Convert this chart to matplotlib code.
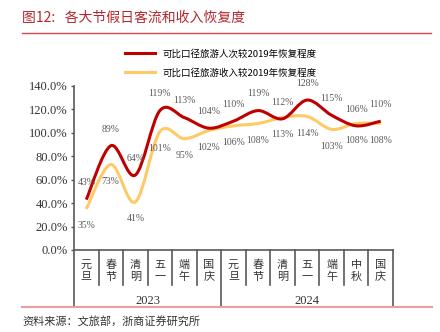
import matplotlib
matplotlib.use("Agg")
import matplotlib.pyplot as plt
from matplotlib.path import Path
from matplotlib.patches import PathPatch
from matplotlib.lines import Line2D
import matplotlib.transforms as mtransforms

# ---- data ----
holidays = ["元旦", "春节", "清明", "五一", "端午", "国庆",
            "元旦", "春节", "清明", "五一", "端午", "中秋", "国庆"]
years = ["2023", "2024"]
year_counts = [6, 7]
trips = [43, 89, 64, 119, 113, 104, 110, 119, 112, 128, 115, 106, 110]
revenue = [35, 73, 41, 101, 95, 102, 106, 108, 113, 114, 103, 108, 108]
series_names = ["可比口径旅游人次较2019年恢复程度", "可比口径旅游收入较2019年恢复程度"]
yticks = [0, 20, 40, 60, 80, 100, 120, 140]

CJK = ["Noto Sans CJK SC", "DejaVu Sans"]
SERIF = ["Liberation Serif", "DejaVu Serif"]
RED = "#C00000"
YEL = "#FFC966"
GRAY = "#595959"

fig = plt.figure(figsize=(4.4, 3.32), dpi=100)
ax = fig.add_axes([74/440, 1-250/332, 319/440, 164/332])
ax.set_xlim(-0.5, len(holidays)-0.5)
ax.set_ylim(0, 140)


def smooth_path(xs, ys):
    verts = [(xs[0], ys[0])]
    codes = [Path.MOVETO]
    n = len(xs)
    for i in range(n-1):
        x0, y0 = xs[max(i-1, 0)], ys[max(i-1, 0)]
        x1, y1 = xs[i], ys[i]
        x2, y2 = xs[i+1], ys[i+1]
        x3, y3 = xs[min(i+2, n-1)], ys[min(i+2, n-1)]
        c1 = (x1 + (x2-x0)/6, y1 + (y2-y0)/6)
        c2 = (x2 - (x3-x1)/6, y2 - (y3-y1)/6)
        verts += [c1, c2, (x2, y2)]
        codes += [Path.CURVE4]*3
    return Path(verts, codes)

xs = list(range(len(holidays)))
for vals, col, z in [(trips, RED, 3), (revenue, YEL, 2)]:
    p = PathPatch(smooth_path(xs, vals), facecolor="none", edgecolor=col,
                  lw=2.2, zorder=z, capstyle="butt")
    ax.add_patch(p)

for i, v in enumerate(trips):
    ax.annotate(f"{v}%", (i, v), xytext=(0, 12), textcoords="offset points",
                ha="center", va="center", fontsize=7, color=GRAY,
                family=SERIF, annotation_clip=False)
for i, v in enumerate(revenue):
    ax.annotate(f"{v}%", (i, v), xytext=(0, -12), textcoords="offset points",
                ha="center", va="center", fontsize=7, color=GRAY,
                family=SERIF, annotation_clip=False)

# axes styling
for s in ["top", "right"]:
    ax.spines[s].set_visible(False)
ax.spines["left"].set_color(GRAY)
ax.spines["left"].set_linewidth(1.2)
ax.spines["bottom"].set_color(GRAY)
ax.spines["bottom"].set_linewidth(1.2)
ax.set_yticks(yticks)
ax.set_yticklabels([f"{t:.1f}%" for t in yticks], family=SERIF, fontsize=9, color="#333333")
ax.tick_params(axis="y", direction="out", length=2.5, width=1, color=GRAY, pad=2)
ax.set_xticks([])

# category table below axis
trans = mtransforms.blended_transform_factory(ax.transData, ax.transAxes)
h = 164.0
year_bounds = [-0.5]
for c in year_counts:
    year_bounds.append(year_bounds[-1] + c)
for k in range(len(holidays)+1):
    xb = k - 0.5
    depth = 57/h if xb in year_bounds else 35/h
    ax.add_line(Line2D([xb, xb], [0, -depth], transform=trans, color=GRAY,
                       lw=1.2, clip_on=False))
for i, name in enumerate(holidays):
    ax.text(i, -21/h, "\n".join(name), transform=trans, ha="center", va="center",
            fontsize=8, family=CJK, color="#333333", linespacing=1.2)
for j, yr in enumerate(years):
    xc = (year_bounds[j] + year_bounds[j+1]) / 2
    ax.text(xc, -51/h, yr, transform=trans, ha="center", va="center",
            fontsize=9, family=SERIF, color="#333333")

# legend
handles = [Line2D([], [], color=RED, lw=2.2), Line2D([], [], color=YEL, lw=2.2)]
fig.legend(handles, series_names, loc="upper left",
           bbox_to_anchor=(125/440, 1-49/332), frameon=False,
           prop={"family": CJK, "size": 6.8}, handlelength=3.2,
           handletextpad=0.75, labelspacing=1.0, borderpad=0, borderaxespad=0)

# title and decorations
fig.text(22/440, 1-18/332, "图12:   各大节假日客流和收入恢复度", family=CJK,
         fontsize=10, color="#B5272D", ha="left", va="center")
fig.add_artist(Line2D([22/440, 431/440], [1-33/332, 1-33/332], color="#D9474A",
                      lw=1.0, transform=fig.transFigure))
fig.add_artist(Line2D([22/440, 432/440], [1-307/332, 1-307/332], color="#E8A0A0",
                      lw=1.5, transform=fig.transFigure))
fig.text(22/440, 1-322/332, "资料来源：文旅部，浙商证券研究所", family=CJK,
         fontsize=8, color="#333333", ha="left", va="center")

fig.savefig("out.png", dpi=100)
